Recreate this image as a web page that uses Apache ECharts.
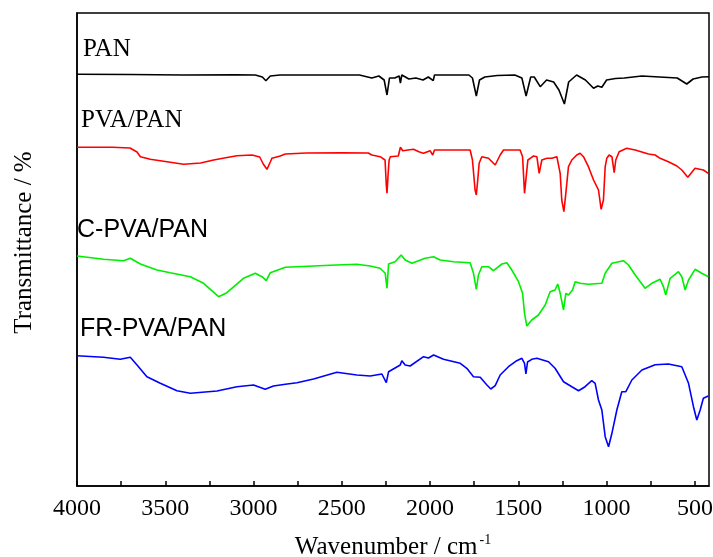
<!DOCTYPE html>
<html>
<head>
<meta charset="utf-8">
<script src="https://cdn.jsdelivr.net/npm/echarts@6/dist/echarts.min.js"></script>
<style>
  html, body { margin: 0; background: #fff; }
  #chart { width: 713px; height: 557px; }
</style>
</head>
<body>
<div id="chart"></div>
<script>
// wavenumber (cm-1), transmittance (offset, arb. units)
const pan = [
  [4000, 411.7], [3700, 411.5], [3400, 411], [3100, 411.2], [2990, 411], [2950, 409],
  [2930, 405.3], [2905, 410], [2850, 411], [2600, 411], [2400, 411], [2330, 408],
  [2290, 410], [2260, 406], [2244, 391], [2230, 408], [2200, 408], [2175, 410],
  [2168, 403], [2160, 411], [2120, 407], [2080, 408], [2040, 406], [2010, 409],
  [1982, 405.3], [1975, 411], [1900, 411], [1780, 411], [1760, 408], [1738, 390],
  [1720, 406], [1690, 409], [1620, 410.5], [1520, 411], [1480, 408], [1456, 390],
  [1430, 409], [1410, 409], [1376, 399.3], [1340, 406], [1300, 404], [1270, 396],
  [1239, 382], [1215, 404], [1170, 411], [1120, 406], [1074, 397.7], [1050, 400],
  [1027, 398.7], [1000, 406], [950, 407.5], [900, 408], [800, 410], [700, 409],
  [600, 408], [546, 402], [510, 407], [460, 409], [420, 409.3]
];

const pvaPan = [
  [4000, 338.7], [3800, 338.7], [3700, 338], [3660, 334], [3641, 329.3], [3585, 326.7],
  [3500, 324.5], [3396, 321.7], [3300, 323], [3226, 326], [3150, 328.5], [3094, 330.3],
  [3009, 331], [2965, 329], [2945, 322], [2924, 316.7], [2905, 324], [2896, 327.7],
  [2849, 330], [2820, 332], [2700, 333], [2500, 333.3], [2350, 333], [2330, 331],
  [2283, 329.3], [2255, 326], [2248, 301], [2244, 292.7], [2238, 311], [2232, 326],
  [2225, 329.3], [2180, 330], [2173, 331], [2168, 338.7], [2155, 335.3], [2094, 336.7],
  [2060, 334], [2037, 332.7], [2000, 335.3], [1985, 331], [1975, 336], [1850, 336],
  [1773, 336], [1760, 326], [1745, 296], [1738, 291], [1730, 306], [1722, 322.7],
  [1707, 329.3], [1669, 327.7], [1631, 321], [1603, 331], [1584, 336], [1490, 336],
  [1476, 329.3], [1465, 292.7], [1457, 291], [1446, 326], [1433, 327.7], [1414, 330],
  [1395, 329.3], [1382, 312.7], [1367, 326], [1338, 327.7], [1310, 327.7], [1282, 329.3],
  [1263, 312.7], [1254, 286], [1242, 274.3], [1231, 292.7], [1216, 319.3], [1197, 326],
  [1169, 331], [1150, 332.7], [1131, 329.3], [1103, 319.3], [1074, 306], [1046, 296],
  [1031, 276.7], [1018, 286], [1008, 319.3], [999, 327.7], [986, 331], [970, 329.3],
  [957, 313.3], [948, 326], [929, 334.3], [886, 337.7], [838, 336], [763, 332],
  [725, 331], [697, 327.7], [650, 324.3], [602, 320], [574, 316], [540, 308.7],
  [499, 317.7], [452, 316], [424, 312.7]
];

const cPvaPan = [
  [4000, 230], [3850, 226.7], [3736, 225.3], [3698, 227.7], [3641, 222], [3547, 216],
  [3472, 213.3], [3358, 209.3], [3283, 202.7], [3198, 189.3], [3151, 193.3], [3057, 207.7],
  [2990, 212.7], [2952, 209.3], [2928, 205.3], [2905, 213.3], [2820, 218.7], [2754, 219.3],
  [2566, 220.7], [2415, 221.7], [2339, 220], [2283, 217.7], [2254, 212.7], [2244, 197.7],
  [2235, 222], [2198, 224.3], [2164, 231], [2141, 226], [2103, 222.7], [2028, 227.7],
  [1980, 229.3], [1943, 226], [1867, 224.3], [1773, 223.3], [1754, 212.7], [1738, 196.7],
  [1726, 211], [1707, 219.3], [1669, 219.3], [1641, 215.3], [1631, 216], [1593, 222],
  [1565, 223.3], [1537, 216], [1499, 204.3], [1476, 192.7], [1465, 172.7], [1452, 160],
  [1424, 166], [1386, 171], [1348, 181], [1320, 194.3], [1292, 196], [1277, 202],
  [1263, 192.7], [1244, 176], [1231, 192.7], [1216, 191], [1193, 196], [1178, 204.3],
  [1150, 202.7], [1103, 201.7], [1027, 202.7], [1008, 212.7], [970, 222.7], [905, 225.3],
  [876, 221], [838, 211], [782, 197.7], [744, 202.7], [697, 206.7], [678, 199.3],
  [665, 191], [640, 207.7], [593, 214.3], [574, 209.3], [555, 196], [536, 206],
  [499, 216.7], [461, 212.7], [424, 209.3]
];

const frPvaPan = [
  [4000, 130.3], [3850, 128.7], [3755, 126.7], [3698, 128.7], [3660, 121], [3604, 109.3],
  [3528, 102.7], [3434, 95.3], [3358, 92.7], [3207, 95], [3094, 99.3], [3000, 101],
  [2934, 96.7], [2887, 100], [2820, 101.7], [2754, 103.3], [2660, 107], [2528, 113.7],
  [2415, 111], [2339, 110], [2273, 112], [2248, 103.3], [2235, 114.3], [2169, 121],
  [2160, 125.3], [2141, 121], [2113, 120], [2037, 129.3], [2009, 128], [1980, 131],
  [1924, 126.7], [1829, 122.7], [1792, 117.7], [1754, 109.3], [1716, 108.7], [1678, 101],
  [1656, 97], [1631, 100.3], [1603, 111], [1556, 119.3], [1509, 125.3], [1480, 127.7],
  [1465, 122.7], [1457, 112], [1448, 124], [1424, 126.7], [1395, 127.7], [1329, 124.3],
  [1292, 117.7], [1244, 104.3], [1197, 99.3], [1159, 95.3], [1122, 99.3], [1084, 105.3],
  [1065, 102.7], [1046, 86], [1027, 76], [1008, 49.3], [989, 39.3], [970, 52.7],
  [942, 76], [914, 94.3], [891, 94.3], [857, 106], [800, 116], [725, 121.3],
  [650, 122], [574, 119.3], [536, 102.7], [508, 79.3], [489, 66], [470, 76],
  [452, 87.7], [424, 90]
];

const tickLabels = [4000, 3500, 3000, 2500, 2000, 1500, 1000, 500];
const tickMarks = [4000, 3750, 3500, 3250, 3000, 2750, 2500, 2250, 2000, 1750, 1500, 1250, 1000, 750, 500];

const chart = echarts.init(document.getElementById('chart'));

const serif = '"Liberation Serif", "Times New Roman", serif';
const sans = '"Liberation Sans", Arial, sans-serif';

const mkLine = (name, data, color) => ({
  name: name,
  type: 'line',
  data: data,
  showSymbol: false,
  silent: true,
  lineStyle: { color: color, width: 1.6 },
  itemStyle: { color: color }
});

chart.setOption({
  backgroundColor: '#fff',
  animation: false,
  grid: {
    left: 77, right: 4, top: 13, bottom: 71,
    outerBoundsMode: 'none',
    containLabel: false,
    show: true, borderColor: '#000', borderWidth: 1.5
  },
  xAxis: {
    type: 'value',
    inverse: true,
    min: 420,
    max: 4000,
    name: '{t|Wavenumber / cm}{s|-1}',
    nameLocation: 'middle',
    nameGap: 47,
    nameTextStyle: {
      rich: {
        t: { fontFamily: serif, fontSize: 25, color: '#000', lineHeight: 28 },
        s: { fontFamily: serif, fontSize: 14, color: '#000', verticalAlign: 'top', lineHeight: 16, padding: [0, 0, 0, 2] }
      }
    },
    axisLine: { onZero: false, lineStyle: { color: '#000', width: 1.5 } },
    axisTick: { show: true, inside: true, length: 5, customValues: tickMarks, lineStyle: { color: '#000', width: 1.5 } },
    axisLabel: {
      customValues: tickLabels,
      formatter: (v) => String(v),
      fontFamily: serif, fontSize: 24, color: '#000', margin: 11
    },
    splitLine: { show: false }
  },
  yAxis: {
    type: 'value',
    min: 0,
    max: 473,
    name: 'Transmittance / %',
    nameLocation: 'middle',
    nameGap: 40,
    nameTextStyle: { fontFamily: serif, fontSize: 25, color: '#000', padding: [0, 0, 0, 14] },
    axisLine: { show: true, lineStyle: { color: '#000', width: 1.5 } },
    axisTick: { show: false },
    axisLabel: { show: false },
    splitLine: { show: false }
  },
  graphic: [
    { type: 'text', x: 83, y: 49, style: { text: 'PAN', font: '25px ' + serif, fill: '#000', verticalAlign: 'middle' } },
    { type: 'text', x: 81, y: 120, style: { text: 'PVA/PAN', font: '25px ' + serif, fill: '#000', verticalAlign: 'middle' } },
    { type: 'text', x: 77, y: 230, style: { text: 'C-PVA/PAN', font: '25px ' + sans, fill: '#000', verticalAlign: 'middle' } },
    { type: 'text', x: 80, y: 329, style: { text: 'FR-PVA/PAN', font: '25px ' + sans, fill: '#000', verticalAlign: 'middle' } }
  ],
  series: [
    mkLine('PAN', pan, '#000000'),
    mkLine('PVA/PAN', pvaPan, '#ff0000'),
    mkLine('C-PVA/PAN', cPvaPan, '#00ee00'),
    mkLine('FR-PVA/PAN', frPvaPan, '#0000ff')
  ]
});
</script>
</body>
</html>
